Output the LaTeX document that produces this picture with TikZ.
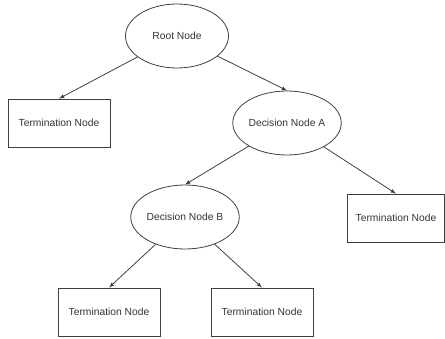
\documentclass[tikz,border=0pt]{standalone}
\usepackage{fontspec}
\setmainfont{Liberation Sans}
\usepackage{xcolor}
\usepackage{tikz}
\usetikzlibrary{arrows,positioning,shapes}

\begin{document}
\begin{tikzpicture}
            [x=1pt,y=-1pt,>=latex,
            decision node/.style={ellipse,draw=black!75,line width=0.8pt,minimum width=103pt,minimum height=64pt,inner sep=0pt,font=\fontsize{10.3}{12}\selectfont,text=black!80},
            term node/.style={rectangle,draw=black!75,line width=0.8pt,minimum width=102pt,minimum height=48pt,inner sep=0pt,font=\fontsize{10.3}{12}\selectfont,text=black!80},
            branch/.style={->,draw=black!75,line width=0.8pt}]
            \useasboundingbox (0,0) rectangle (445,339);
            \node[decision node] (root) at (177,36) {Root Node};
            \node[term node] (t1) at (59,123) {Termination Node};
            \node[decision node] (a) at (287,123) {Decision Node A};
            \node[decision node] (b) at (185,217) {Decision Node B};
            \node[term node, minimum width=97pt] (t2) at (396,218) {Termination Node};
            \node[term node] (t3) at (109,312) {Termination Node};
            \node[term node] (t4) at (262,312) {Termination Node};
            % branches
            \draw[branch] (root) -- (t1.north);
            \draw[branch] (root) -- (a.north);
            \draw[branch] (a) -- (b.north);
            \draw[branch] (a) -- (t2.north);
            \draw[branch] (b) -- (t3.north);
            \draw[branch] (b) -- (t4.north);
            \end{tikzpicture}
\end{document}
